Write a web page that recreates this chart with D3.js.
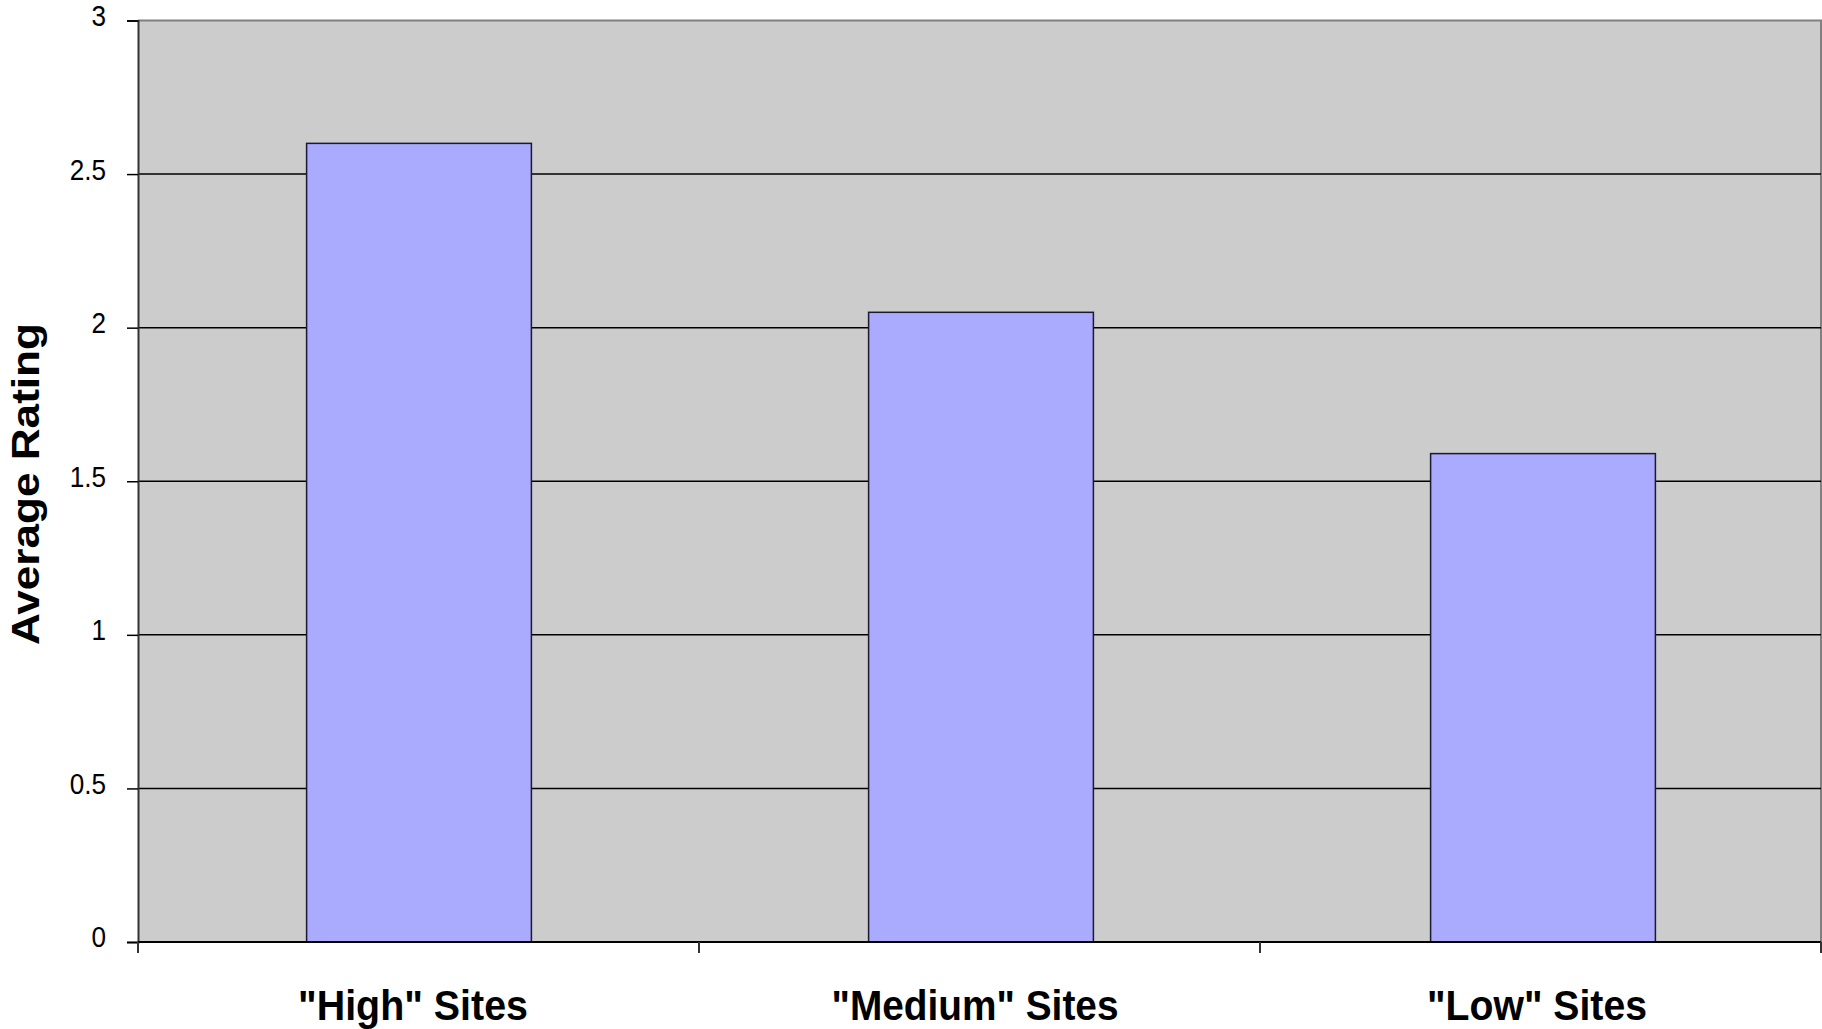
<!DOCTYPE html>
<html>
<head>
<meta charset="utf-8">
<script src="https://cdn.jsdelivr.net/npm/d3@7"></script>
<style>
  html, body { margin: 0; padding: 0; background: #ffffff; }
  svg { display: block; }
  text { font-family: "Liberation Sans", Arial, sans-serif; fill: #000; }
</style>
</head>
<body>
<svg id="chart" width="1822" height="1029"></svg>
<script>
const categories = ['"High" Sites', '"Medium" Sites', '"Low" Sites'];
const values = [2.6, 2.05, 1.59];
const yTicks = [0, 0.5, 1, 1.5, 2, 2.5, 3];
const yTickLabels = ["0", "0.5", "1", "1.5", "2", "2.5", "3"];
const labelWidths = [230, 287, 220];
const yTitle = "Average Rating";

(function () {
const svg = d3.select("#chart");
const pLeft = 138, pRight = 1821, pTop = 20.5, pBottom = 942;

const x = d3.scaleBand().domain(categories).range([pLeft, pRight + 3])
  .paddingInner(0.6).paddingOuter(0.3);
const y = d3.scaleLinear().domain([0, 3]).range([pBottom, pTop]);

// plot background
svg.append("rect")
  .attr("x", pLeft).attr("y", pTop)
  .attr("width", pRight - pLeft).attr("height", pBottom - pTop)
  .attr("fill", "#cccccc");

// top and right frame
svg.append("path")
  .attr("d", `M${pLeft},${pTop}H${pRight}V${pBottom}`)
  .attr("fill", "none").attr("stroke", "#808080").attr("stroke-width", 2);

// gridlines
svg.append("g").selectAll("line")
  .data(yTicks.filter(d => d > 0 && d < 3))
  .join("line")
  .attr("x1", pLeft).attr("x2", pRight)
  .attr("y1", d => y(d)).attr("y2", d => y(d))
  .attr("stroke", "#000").attr("stroke-width", 1.5);

// bars
svg.append("g").selectAll("rect")
  .data(values)
  .join("rect")
  .attr("x", (d, i) => x(categories[i]))
  .attr("width", x.bandwidth())
  .attr("y", d => y(d))
  .attr("height", d => y(0) - y(d))
  .attr("fill", "#aaaaff")
  .attr("stroke", "#1a1a33").attr("stroke-width", 1.5);

// y axis
const yAxis = d3.axisLeft(y).tickValues(yTicks)
  .tickFormat((d, i) => yTickLabels[i]).tickSize(11).tickPadding(21);
const gy = svg.append("g").attr("transform", `translate(${pLeft},0)`).call(yAxis);
gy.select(".domain").attr("stroke", "#333").attr("stroke-width", 2);
gy.selectAll(".tick line").attr("stroke", "#000").attr("stroke-width", 1.5);
gy.selectAll(".tick text")
  .attr("font-size", 29).attr("font-family", "Liberation Sans, Arial, sans-serif")
  .attr("dy", "0.17em").attr("fill", "#000")
  .each(function () {
    const w = this.getComputedTextLength();
    d3.select(this).attr("textLength", w * 0.9).attr("lengthAdjust", "spacingAndGlyphs");
  });

// x axis baseline and category ticks
svg.append("line")
  .attr("x1", pLeft).attr("x2", pRight)
  .attr("y1", pBottom).attr("y2", pBottom)
  .attr("stroke", "#000").attr("stroke-width", 2);
const bounds = [pLeft, pLeft + (pRight - pLeft) / 3, pLeft + 2 * (pRight - pLeft) / 3, pRight];
svg.append("g").selectAll("line")
  .data(bounds)
  .join("line")
  .attr("x1", d => d).attr("x2", d => d)
  .attr("y1", pBottom).attr("y2", pBottom + 11)
  .attr("stroke", "#333").attr("stroke-width", 2);

// category labels
svg.append("g").selectAll("text")
  .data(categories)
  .join("text")
  .attr("x", d => x(d) + x.bandwidth() / 2 - 6)
  .attr("y", 1020)
  .attr("text-anchor", "middle")
  .attr("font-size", 43)
  .attr("font-weight", "bold")
  .attr("textLength", (d, i) => labelWidths[i])
  .attr("lengthAdjust", "spacingAndGlyphs")
  .text(d => d);

// y title
svg.append("text")
  .attr("transform", "translate(39,484) rotate(-90)")
  .attr("text-anchor", "middle")
  .attr("font-size", 39)
  .attr("font-weight", "bold")
  .attr("textLength", 322)
  .attr("lengthAdjust", "spacingAndGlyphs")
  .text(yTitle);
})();
</script>
</body>
</html>
